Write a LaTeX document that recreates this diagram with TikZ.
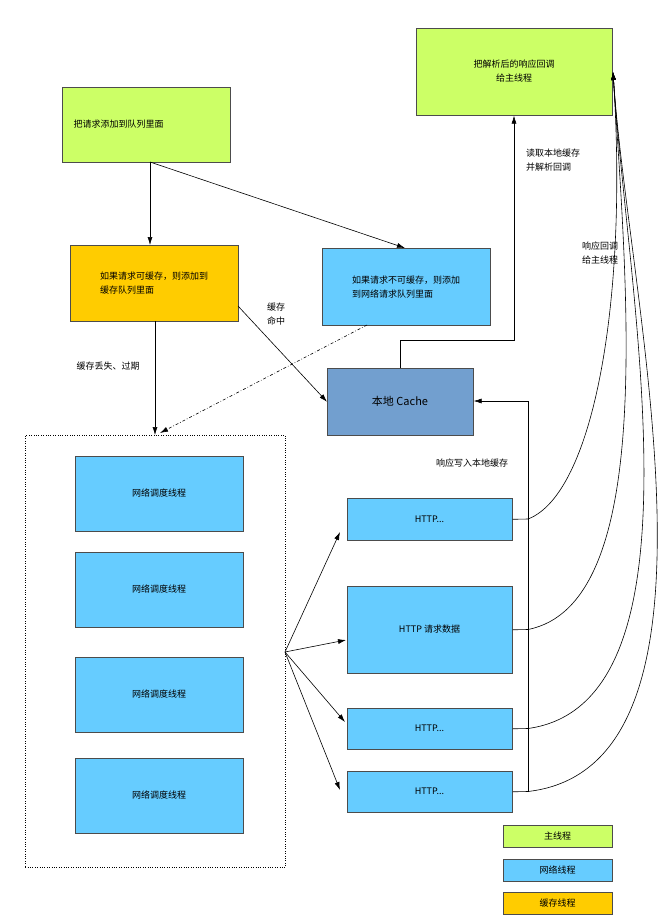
\documentclass[tikz,border=0pt]{standalone}
\usepackage{fontspec}
\setmainfont{Noto Sans CJK SC}
\usetikzlibrary{arrows.meta}
\definecolor{gmain}{HTML}{CCFF66}
\definecolor{bnet}{HTML}{66CCFF}
\definecolor{ocache}{HTML}{FFCC00}
\definecolor{lcache}{HTML}{729FCF}
\begin{document}
\begin{tikzpicture}[x=1pt,y=-1pt,
  box/.style={draw=black!70,line width=0.6pt,inner sep=0pt,align=center,font=\fontsize{9}{14}\selectfont},
  arr/.style={-{Latex[length=8pt,width=5pt]},line width=0.6pt},
  lbl/.style={font=\fontsize{9}{14}\selectfont,align=left}]
\useasboundingbox (0,0) rectangle (661,924);
\newcommand\bx[6]{\node[box,fill=#2,minimum width=#5-#3,minimum height=#6-#4,anchor=north west] (#1) at (#3,#4) {};}
\bx{m1}{gmain}{62}{87}{230}{162}
\node[lbl,anchor=west] at (70,124.5) {把请求添加到队列里面};
\bx{top}{gmain}{416}{28}{612}{115}
\node[lbl,align=center] at (514,71) {把解析后的响应回调\\给主线程};
\bx{c1}{ocache}{70}{245}{238}{321}
\node[lbl] at (154,283) {如果请求可缓存，则添加到\\缓存队列里面};
\bx{n1}{bnet}{322}{248}{490}{325}
\node[lbl] at (406,287) {如果请求不可缓存，则添加\\到网络请求队列里面};
\bx{lc}{lcache}{327}{368}{473}{435}
\node[font=\fontsize{11}{14}\selectfont] at (400,401.5) {本地 Cache};
\node[draw,dotted,minimum width=260,minimum height=432,anchor=north west,inner sep=0pt] (pool) at (25,435) {};
\foreach \n/\y/\h in {w1/456/531,w2/552/627,w3/657/732,w4/758/833}{
  \bx{\n}{bnet}{75}{\y}{243}{\h}
  \node[lbl] at (159,{(\y+\h)/2}) {网络调度线程};}
\bx{h1}{bnet}{347}{498}{512}{540}
\node[lbl] at (429.5,519) {HTTP...};
\bx{h2}{bnet}{347}{586}{512}{673}
\node[lbl] at (429.5,629.5) {HTTP 请求数据};
\bx{h3}{bnet}{347}{708}{512}{749}
\node[lbl] at (429.5,728.5) {HTTP...};
\bx{h4}{bnet}{347}{771}{512}{812}
\node[lbl] at (429.5,791.5) {HTTP...};
\bx{L1}{gmain}{503}{825}{612}{847}
\node[lbl] at (557.5,836) {主线程};
\bx{L2}{bnet}{503}{859}{612}{881}
\node[lbl] at (557.5,870) {网络线程};
\bx{L3}{ocache}{503}{892}{612}{914}
\node[lbl] at (557.5,903) {缓存线程};
% arrows
\coordinate (m1b) at (150,162);
\draw[arr] (m1b) -- (c1.north -| m1b);
\draw[arr] (m1b) -- (405,248);
\draw[arr] (155,321) -- (155,435);
\node[lbl] at (108,366) {缓存丢失、过期};
\draw[arr] (238,306) -- (lc.west);
\node[lbl] at (276,314) {缓存\\命中};
\draw[arr,dash dot] (367,325) -- (160,433);
\draw[arr] (400,368) -- (400,340) -- (514,340) -- (top.south -| 514,0);
\node[lbl] at (553,160) {读取本地缓存\\并解析回调};
\coordinate (fan) at (285,652);
\draw[arr] (fan) -- (340,532);
\draw[arr] (fan) -- (346,640);
\draw[arr] (fan) -- (345,722);
\draw[arr] (fan) -- (340,790);
\draw[line width=0.6pt] (h1.east) -- (528,519);
\draw[line width=0.6pt] (h2.east) -- (528,629.5);
\draw[line width=0.6pt] (h3.east) -- (528,728.5);
\draw[line width=0.6pt] (h4.east) -- (528,791.5);
\draw[arr] (528,791.5) -- (528,401) -- (lc.east |- 0,401);
\node[lbl] at (472,463) {响应写入本地缓存};
\coordinate (cb) at (613,72);
\foreach \yy in {519,629.5,728.5,791.5}
  \draw[arr] (528,\yy) .. controls ({528+ (\yy-400)*0.55},{\yy-25}) and (628,300) .. (cb);
\node[lbl] at (600,253) {响应回调\\给主线程};
\end{tikzpicture}
\end{document}
